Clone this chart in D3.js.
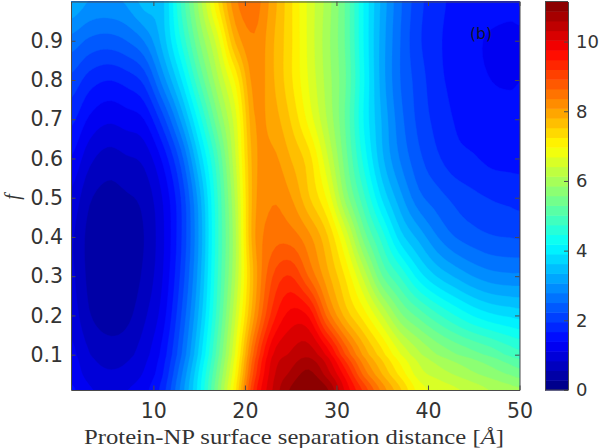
<!DOCTYPE html>
<html lang="en">
<head>
    <meta charset="UTF-8">
    <title>Protein-NP contour map</title>
    <script src="https://d3js.org/d3.v7.min.js"></script>
    <style>
        body, html { margin: 0; background: #fff; }
        svg { display: block; }
        .tick text { font-family: 'DejaVu Sans', sans-serif; font-size: 20.5px; fill: #333; }
        .bar .tick text { font-size: 18px; }
        .tick line, .domain { stroke: #4a4a4a; stroke-width: 1; }
        .xlabel { font-family: 'Liberation Serif', serif; font-size: 22px; fill: #333; }
        .ylabel { font-family: 'Liberation Serif', serif; font-style: italic; font-size: 20px; fill: #333; }
        .panel { font-family: 'DejaVu Sans', sans-serif; font-size: 15.5px; fill: #14142a; }
    </style>
</head>
<body>
    <svg width="600" height="448"></svg>
    <script>
        const distance = [1, 3, 5, 7, 9, 11, 13, 15, 17, 19, 21, 23, 25, 27, 29, 31, 33, 35, 37, 39, 41, 43, 45, 47, 49, 50];
        const fraction = [0.01, 0.05, 0.1, 0.2, 0.3, 0.4, 0.5, 0.6, 0.7, 0.8, 0.9, 1.0];

        // one row per fraction
        const row001 = [1.45, 1.15, 1.05, 1.10, 1.30, 1.80, 2.85, 4.05, 5.55, 7.20, 9.25, 10.3, 10.9, 11.15, 10.9, 9.95, 9.10, 8.25, 7.55, 6.85, 6.60, 6.45, 6.28, 6.10, 5.95, 5.90];
        const row005 = [1.30, 1.00, 0.88, 0.93, 1.15, 1.65, 2.70, 3.95, 5.40, 7.00, 9.00, 10.2, 10.65, 10.95, 10.45, 9.60, 8.55, 7.80, 7.15, 6.55, 6.30, 6.10, 5.90, 5.72, 5.55, 5.45];
        const row010 = [1.20, 0.85, 0.70, 0.75, 1.00, 1.50, 2.45, 3.70, 5.15, 6.75, 8.70, 10.0, 10.35, 10.5, 9.95, 8.90, 8.00, 7.35, 6.70, 6.20, 5.85, 5.60, 5.40, 5.20, 4.95, 4.85];
        const row020 = [1.00, 0.58, 0.42, 0.47, 0.78, 1.25, 2.20, 3.40, 4.85, 6.40, 8.05, 9.30, 9.85, 9.70, 8.55, 7.70, 7.10, 6.40, 5.65, 5.20, 4.80, 4.45, 4.15, 3.95, 3.85, 3.80];
        const row030 = [0.90, 0.48, 0.32, 0.36, 0.62, 1.10, 2.00, 3.20, 4.70, 6.15, 7.85, 8.90, 9.20, 8.60, 7.90, 7.20, 6.30, 5.30, 4.70, 4.05, 3.60, 3.30, 3.05, 2.90, 2.85, 2.85];
        const row040 = [0.88, 0.46, 0.30, 0.37, 0.56, 1.05, 1.90, 3.10, 4.65, 6.10, 8.00, 8.50, 8.50, 8.15, 7.55, 6.60, 5.45, 4.60, 3.75, 3.25, 2.80, 2.50, 2.35, 2.25, 2.22, 2.20];
        const row050 = [1.05, 0.60, 0.46, 0.52, 0.65, 1.12, 1.95, 3.20, 4.70, 6.20, 7.95, 8.33, 8.10, 7.55, 6.90, 5.75, 4.80, 3.85, 3.15, 2.60, 2.35, 2.15, 2.02, 1.93, 1.88, 1.85];
        const row060 = [1.38, 0.92, 0.72, 0.80, 0.92, 1.45, 2.35, 3.65, 4.95, 6.40, 7.95, 8.15, 7.80, 7.35, 6.45, 5.40, 4.35, 3.40, 2.75, 2.30, 2.00, 1.78, 1.70, 1.60, 1.58, 1.58];
        const row070 = [1.75, 1.35, 1.17, 1.25, 1.40, 2.10, 3.10, 4.30, 5.50, 6.60, 8.05, 7.95, 7.50, 6.85, 6.10, 5.25, 4.15, 3.30, 2.60, 2.15, 1.85, 1.65, 1.55, 1.50, 1.47, 1.47];
        const row080 = [2.15, 1.82, 1.68, 1.78, 2.05, 2.90, 3.85, 5.00, 6.05, 7.05, 8.20, 7.85, 7.30, 6.65, 6.00, 5.30, 4.20, 3.20, 2.50, 2.10, 1.75, 1.60, 1.48, 1.39, 1.37, 1.39];
        const row090 = [2.68, 2.45, 2.38, 2.50, 2.80, 3.45, 4.45, 5.55, 6.55, 7.85, 8.33, 7.85, 7.30, 6.60, 5.95, 5.25, 4.15, 3.20, 2.50, 2.00, 1.72, 1.58, 1.46, 1.34, 1.30, 1.33];
        const row100 = [3.30, 3.05, 3.00, 3.10, 3.45, 3.55, 4.75, 5.95, 7.20, 8.30, 8.50, 7.95, 7.30, 6.60, 6.00, 5.25, 4.15, 3.25, 2.55, 2.05, 1.75, 1.62, 1.55, 1.55, 1.50, 1.52];
        const rows = [row001, row005, row010, row020, row030, row040, row050, row060, row070, row080, row090, row100];

        const xTicks = [10, 20, 30, 40, 50];
        const yTicks = [0.1, 0.2, 0.3, 0.4, 0.5, 0.6, 0.7, 0.8, 0.9];
        const barTicks = [0, 2, 4, 6, 8, 10];
        const vMax = 11.15;
        const nLevels = 40;

        const svg = d3.select("svg");
        const x = d3.scaleLinear().domain([1, 50]).range([71, 519.5]);
        const y = d3.scaleLinear().domain([0.01, 1]).range([390, 1.5]);
        const barY = d3.scaleLinear().domain([0, vMax]).range([390, 1.5]);

        // matlab jet
        function jet(t) {
            const c = v => Math.round(255 * Math.max(0, Math.min(1, v)));
            return d3.rgb(c(1.5 - Math.abs(4 * t - 3)), c(1.5 - Math.abs(4 * t - 2)), c(1.5 - Math.abs(4 * t - 1)));
        }

        // the table is coarse, so the contour lines are drawn through a cubic resample of it
        const fine = 5;
        function cubic(a, b, c, d, t) {
            return b + 0.5 * t * (c - a + t * (2 * a - 5 * b + 4 * c - d + t * (3 * (b - c) + d - a)));
        }
        function resample(line) {
            const out = [];
            for (let i = 0; i < line.length - 1; i++) {
                for (let k = 0; k < fine; k++) {
                    out.push(cubic(line[Math.max(i - 1, 0)], line[i], line[i + 1], line[Math.min(i + 2, line.length - 1)], k / fine));
                }
            }
            out.push(line[line.length - 1]);
            return out;
        }
        const wide = rows.map(resample);
        const columns = d3.transpose(wide).map(resample);
        const gridRows = d3.transpose(columns);
        const nx = gridRows[0].length, ny = gridRows.length;

        const step = vMax / nLevels;
        const levels = d3.range(nLevels).map(i => i * step);

        // contours keeps grid points at i + 0.5
        const contours = d3.contours().size([nx, ny]).smooth(true).thresholds(levels)(gridRows.flat());
        const colIdx = d3.scaleLinear().domain(d3.range(distance.length)).range(distance).clamp(true);
        const rowIdx = d3.scaleLinear().domain(d3.range(fraction.length)).range(fraction).clamp(true);
        const path = d3.geoPath().projection(d3.geoTransform({
            point(px, py) { this.stream.point(x(colIdx((px - 0.5) / fine)), y(rowIdx((py - 0.5) / fine))); }
        }));

        svg.append("clipPath").attr("id", "plot").append("rect")
            .attr("x", x(1)).attr("y", y(1)).attr("width", x(50) - x(1)).attr("height", y(0.01) - y(1));

        svg.append("g").attr("clip-path", "url(#plot)")
            .selectAll("path").data(contours).enter().append("path")
            .attr("d", path)
            .attr("fill", d => jet((d.value + step / 2) / vMax))
            .attr("stroke", d => jet((d.value + step / 2) / vMax))
            .attr("stroke-width", 0.4);

        // axes, ticks point inwards on all four sides
        svg.append("g").attr("transform", `translate(0,${y(0.01)})`)
            .call(d3.axisBottom(x).tickValues(xTicks).tickSize(-4.5).tickSizeOuter(0).tickPadding(13));
        svg.append("g").attr("transform", `translate(0,${y(1)})`)
            .call(d3.axisTop(x).tickValues(xTicks).tickSize(-4.5).tickSizeOuter(0).tickFormat(""));
        svg.append("g").attr("transform", `translate(${x(1)},0)`)
            .call(d3.axisLeft(y).tickValues(yTicks).tickSize(-4.5).tickSizeOuter(0).tickPadding(8).tickFormat(d3.format(".1f")));
        svg.append("g").attr("transform", `translate(${x(50)},0)`)
            .call(d3.axisRight(y).tickValues(yTicks).tickSize(-4.5).tickSizeOuter(0).tickFormat(""));

        // colorbar
        svg.append("g").selectAll("rect").data(levels).enter().append("rect")
            .attr("x", 545).attr("width", 23)
            .attr("y", d => barY(d + step)).attr("height", d => barY(d) - barY(d + step) + 0.5)
            .attr("fill", d => jet((d + step / 2) / vMax));
        svg.append("g").attr("transform", "translate(545,0)")
            .call(d3.axisLeft(barY).tickValues([]).tickSize(0));
        svg.append("g").attr("class", "bar").attr("transform", "translate(568,0)")
            .call(d3.axisRight(barY).tickValues(barTicks).tickSize(-4).tickSizeOuter(0).tickPadding(8));
        svg.append("line").attr("x1", 545).attr("x2", 568).attr("y1", 1.5).attr("y2", 1.5).attr("stroke", "#4a4a4a");
        svg.append("line").attr("x1", 545).attr("x2", 568).attr("y1", 390).attr("y2", 390).attr("stroke", "#4a4a4a");

        const xlabel = svg.append("text").attr("class", "xlabel")
            .attr("x", 84).attr("y", 444).attr("textLength", 420).attr("lengthAdjust", "spacingAndGlyphs");
        xlabel.append("tspan").text("Protein-NP surface separation distance [");
        xlabel.append("tspan").attr("font-style", "italic").text("Å");
        xlabel.append("tspan").text("]");
        svg.append("text").attr("class", "ylabel").attr("text-anchor", "middle")
            .attr("transform", "translate(19,197) rotate(-90)").text("f");
        svg.append("text").attr("class", "panel").attr("x", 470).attr("y", 39).text("(b)");
    </script>
</body>
</html>
